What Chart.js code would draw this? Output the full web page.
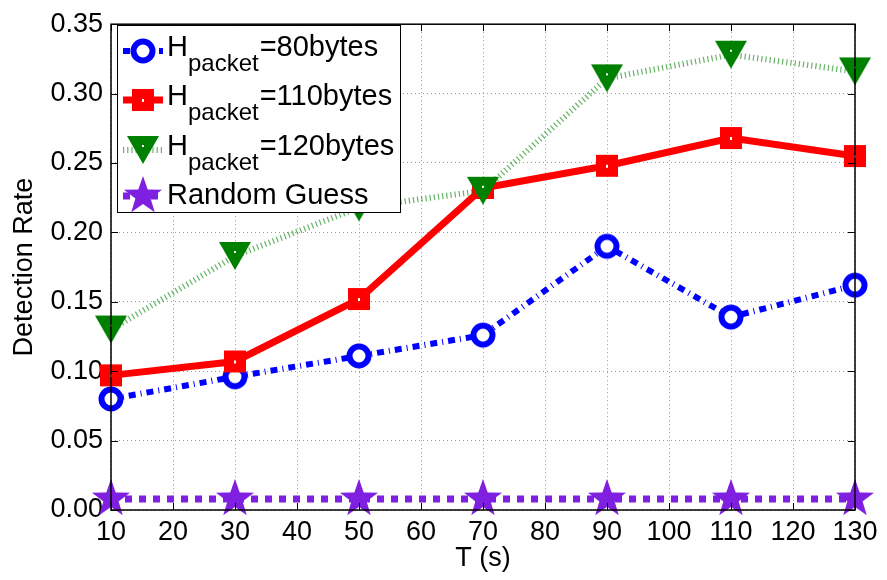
<!DOCTYPE html>
<html>
<head>
<meta charset="utf-8">
<script src="https://cdn.jsdelivr.net/npm/chart.js@4.4.0/dist/chart.umd.min.js"></script>
<style>
  html, body { margin: 0; padding: 0; background: #fff; }
  #wrap { width: 887px; height: 580px; position: relative; }
</style>
</head>
<body>
<div id="wrap"><canvas id="chart"></canvas></div>
<script>
// data
const timeSteps = [10, 30, 50, 70, 90, 110, 130];
const rate80 = [0.080, 0.096, 0.111, 0.126, 0.190, 0.139, 0.162];
const rate110 = [0.097, 0.107, 0.152, 0.232, 0.248, 0.268, 0.255];
const rate120 = [0.130, 0.183, 0.218, 0.230, 0.311, 0.328, 0.316];
const randomGuess = [0.008, 0.008, 0.008, 0.008, 0.008, 0.008, 0.008];
const xTicks = [10, 20, 30, 40, 50, 60, 70, 80, 90, 100, 110, 120, 130];
const yTicks = [0, 0.05, 0.10, 0.15, 0.20, 0.25, 0.30, 0.35];
const seriesNames = ['=80bytes', '=110bytes', '=120bytes', 'Random Guess'];

const FONT = "'Liberation Sans', Arial, Helvetica, sans-serif";
const BLUE = '#0000ff', RED = '#ff0000', GREEN = '#008000', PURPLE = '#7f1fe0';

// marker images
function makeCanvas(w, h, draw) {
  const c = document.createElement('canvas');
  c.width = w; c.height = h;
  draw(c.getContext('2d'));
  return c;
}
const circleMark = makeCanvas(30, 30, g => {
  g.beginPath(); g.arc(15, 15, 9.5, 0, Math.PI * 2);
  g.fillStyle = '#fff'; g.fill();
  g.lineWidth = 6; g.strokeStyle = BLUE; g.stroke();
});
const squareMark = makeCanvas(24, 24, g => {
  g.fillStyle = RED; g.fillRect(1, 1, 22, 22);
  g.fillStyle = '#fff'; g.fillRect(11, 11, 2, 3);
});
const triMark = makeCanvas(34, 30, g => {
  g.beginPath(); g.moveTo(1, 1); g.lineTo(33, 1); g.lineTo(17, 29); g.closePath();
  g.fillStyle = GREEN; g.fill();
  g.fillStyle = '#fff'; g.fillRect(16, 10, 2, 2);
});
function starPath(g, cx, cy, R, r) {
  g.beginPath();
  for (let i = 0; i < 10; i++) {
    const rad = i % 2 ? r : R;
    const a = -Math.PI / 2 + i * Math.PI / 5;
    const px = cx + rad * Math.cos(a), py = cy + rad * Math.sin(a);
    i ? g.lineTo(px, py) : g.moveTo(px, py);
  }
  g.closePath();
}
const starMark = makeCanvas(42, 42, g => {
  starPath(g, 21, 21, 20, 8);
  g.fillStyle = PURPLE; g.fill();
});

const pts = vals => timeSteps.map((t, i) => ({ x: t, y: vals[i] }));

const styles = [
  { color: BLUE, width: 6, dash: [7, 5, 1, 5], mark: circleMark },
  { color: RED, width: 7, dash: [], mark: squareMark },
  { color: 'rgba(0,128,0,0.6)', width: 6, dash: [1.2, 3], mark: triMark },
  { color: PURPLE, width: 7, dash: [7, 7], mark: starMark },
];

// box, inward ticks and the legend with subscripts
const framePlugin = {
  id: 'frame',
  afterDraw(chart) {
    const { ctx, chartArea: a, scales } = chart;
    ctx.save();
    ctx.strokeStyle = '#000';
    ctx.lineWidth = 1;
    ctx.beginPath();
    xTicks.forEach(v => {
      const x = Math.round(scales.x.getPixelForValue(v)) + 0.5;
      ctx.moveTo(x, a.bottom); ctx.lineTo(x, a.bottom - 7);
      ctx.moveTo(x, a.top); ctx.lineTo(x, a.top + 7);
    });
    yTicks.forEach(v => {
      const y = Math.round(scales.y.getPixelForValue(v)) + 0.5;
      ctx.moveTo(a.left, y); ctx.lineTo(a.left + 7, y);
      ctx.moveTo(a.right, y); ctx.lineTo(a.right - 7, y);
    });
    ctx.stroke();
    ctx.lineWidth = 1.5;
    ctx.strokeRect(a.left, a.top, a.right - a.left, a.bottom - a.top);

    // legend
    ctx.fillStyle = '#fff';
    ctx.fillRect(117, 25, 283, 187);
    ctx.lineWidth = 1;
    ctx.strokeStyle = '#000';
    ctx.strokeRect(117.5, 25.5, 283, 187);
    const rowY = [51, 100, 150, 196];
    seriesNames.forEach((name, i) => {
      const s = styles[i], y = rowY[i];
      ctx.save();
      ctx.strokeStyle = s.color; ctx.lineWidth = s.width;
      ctx.setLineDash(s.dash);
      ctx.beginPath(); ctx.moveTo(123, y); ctx.lineTo(163, y); ctx.stroke();
      ctx.restore();
      ctx.drawImage(s.mark, 143 - s.mark.width / 2, y - s.mark.height / 2);
      ctx.fillStyle = '#000';
      ctx.textBaseline = 'alphabetic';
      ctx.textAlign = 'left';
      if (i < 3) {
        ctx.font = '29px ' + FONT;
        ctx.fillText('H', 167, y + 5);
        const hw = ctx.measureText('H').width;
        ctx.font = '24px ' + FONT;
        ctx.fillText('packet', 167 + hw, y + 20);
        const pw = ctx.measureText('packet').width;
        ctx.font = '29px ' + FONT;
        ctx.fillText(name, 167 + hw + pw + 1, y + 5);
      } else {
        ctx.font = '29px ' + FONT;
        ctx.fillText(name, 167, y + 8);
      }
    });
    ctx.restore();
  }
};

new Chart(document.getElementById('chart'), {
  type: 'line',
  data: {
    datasets: [rate80, rate110, rate120, randomGuess].map((vals, i) => ({
      label: seriesNames[i],
      data: pts(vals),
      borderColor: styles[i].color,
      borderWidth: styles[i].width,
      borderDash: styles[i].dash,
      borderCapStyle: 'butt',
      pointStyle: styles[i].mark,
      pointRadius: 12,
      pointHoverRadius: 12,
      tension: 0,
      fill: false,
      clip: false,
      order: 4 - i,
    })),
  },
  options: {
    responsive: true,
    maintainAspectRatio: false,
    animation: false,
    events: [],
    layout: { padding: { top: 19, right: 32, left: 0, bottom: 0 } },
    scales: {
      x: {
        type: 'linear',
        min: 10,
        max: 130,
        afterFit: s => { s.height = 70; },
        afterBuildTicks: s => { s.ticks = xTicks.map(v => ({ value: v })); },
        grid: { color: '#999', lineWidth: 1, drawTicks: false },
        border: { display: false, dash: [1, 3] },
        ticks: { color: '#000', font: { family: FONT, size: 27 }, padding: 6, maxRotation: 0, autoSkip: false },
        title: { display: true, text: 'T (s)', color: '#000', font: { family: FONT, size: 27 }, padding: { top: 0, bottom: 5 } },
      },
      y: {
        min: 0,
        max: 0.35,
        afterFit: s => { s.width = 111; },
        afterBuildTicks: s => { s.ticks = yTicks.map(v => ({ value: v })); },
        grid: { color: '#999', lineWidth: 1, drawTicks: false },
        border: { display: false, dash: [1, 3] },
        ticks: { color: '#000', font: { family: FONT, size: 27 }, padding: 8, callback: v => v.toFixed(2) },
        title: { display: true, text: 'Detection Rate', color: '#000', font: { family: FONT, size: 27 }, padding: { top: 8, bottom: 0 } },
      },
    },
    plugins: {
      legend: { display: false },
      tooltip: { enabled: false },
    },
  },
  plugins: [framePlugin],
});
</script>
</body>
</html>
